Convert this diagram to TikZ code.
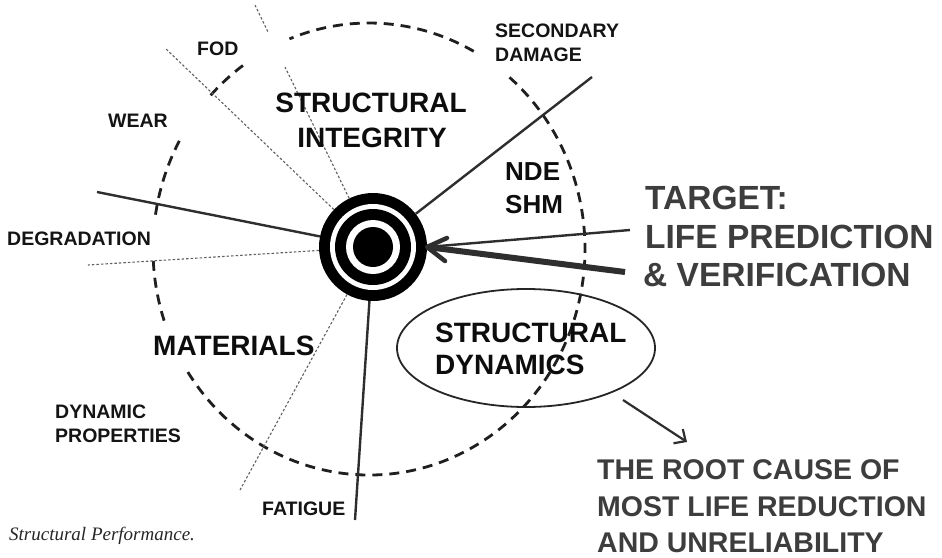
\documentclass[tikz,border=0pt]{standalone}
\usepackage{fontspec}
\setmainfont{Liberation Sans}
\newfontfamily\seriffont{Liberation Serif}
\usetikzlibrary{shapes.geometric,arrows.meta}
\begin{document}
\begin{tikzpicture}[x=1pt,y=-1pt,
  lbl/.style={inner sep=0pt, anchor=base west, font=\bfseries\fontsize{19.5}{22}\selectfont, text=black!92},
  mid/.style={inner sep=0pt, anchor=base west, font=\bfseries\fontsize{26}{30}\selectfont, text=black!95},
  big/.style={inner sep=0pt, anchor=base west, font=\bfseries\fontsize{28}{32}\selectfont, text=black!95},
  gtxt/.style={inner sep=0pt, anchor=base west, font=\bfseries\fontsize{33.5}{38}\selectfont, text=black!76},
  rtxt/.style={inner sep=0pt, anchor=base west, font=\bfseries\fontsize{28.5}{32}\selectfont, text=black!76},
  dcirc/.style={line width=2.8pt, dash pattern=on 10pt off 7pt, black!88},
  dotl/.style={line width=1.1pt, dash pattern=on 2.5pt off 2pt, black!62},
  radl/.style={line width=2.4pt, black!82},
  ring/.style={circle, inner sep=0pt, draw=none},
]
\useasboundingbox (0,0) rectangle (942,557);
\fill[white] (0,0) rectangle (942,557);

% ---- dashed circle (with gaps) ----
\coordinate (cc) at (369,249);
\draw[dcirc] (cc) ++(-213:216 and 226) arc[start angle=-213, end angle=-410, x radius=216, y radius=226];
\draw[dcirc] (cc) ++(-61:216 and 226) arc[start angle=-61, end angle=-111.6, x radius=216, y radius=226];
\draw[dcirc] (cc) ++(-125.7:216 and 226) arc[start angle=-125.7, end angle=-138.4, x radius=216, y radius=226];
\draw[dcirc] (cc) ++(-151.4:216 and 226) arc[start angle=-151.4, end angle=-172, x radius=216, y radius=226];
\draw[dcirc] (cc) ++(-183:216 and 226) arc[start angle=-183, end angle=-200, x radius=216, y radius=226];

% ---- target ----
\node[ring, fill=black, minimum size=108pt] (tgt) at (373,247) {};
\node[ring, fill=white, minimum size=86pt] (tw1) at (tgt.center) {};
\node[ring, fill=black, minimum size=76pt] (tb1) at (tgt.center) {};
\node[ring, fill=white, minimum size=54pt] (tw2) at (tgt.center) {};
\node[ring, fill=black, minimum size=40pt] (tb2) at (tgt.center) {};

% ---- end points ----
\coordinate (sUR) at (592,77);
\coordinate (sL) at (97,192);
\coordinate (sD) at (355,520);
\coordinate (dA1) at (255,5);
\coordinate (dA2) at (268,32);
\coordinate (dA3) at (285,67);
\coordinate (dB) at (165,48);
\coordinate (dC) at (88,265);
\coordinate (dD) at (240,490);
\coordinate (tip) at (427,247);
\coordinate (thinE) at (630,230);
\coordinate (thickE) at (625,272);
\coordinate (barbU) at (447,238);
\coordinate (barbD) at (445,261);
\coordinate (ra1) at (623,400);
\coordinate (ra2) at (687,442);

% ---- radial lines ----
\draw[radl] (tgt) -- (sUR);
\draw[radl] (tgt) -- (sL);
\draw[radl] (tgt) -- (sD);
\draw[dotl] (dA1) -- (dA2);
\draw[dotl] (tgt) -- (dA3);
\draw[dotl] (tgt) -- (dB);
\draw[dotl] (tgt) -- (dC);
\draw[dotl] (tgt) -- (dD);

% ---- target arrow ----
\draw[line width=2.4pt, black!82] (thinE) -- (tip);
\draw[line width=6pt, black!82] (thickE) -- (tip);
\draw[line width=4.5pt, black!82, line cap=round, line join=round] (barbU) -- (tip) -- (barbD);

% ---- ellipse ----
\node[draw, ellipse, line width=1.8pt, black!85, minimum width=258pt, minimum height=118pt, inner sep=0pt] (sd) at (526,348) {};
\draw[line width=2.2pt, black!82, -{Straight Barb[length=9pt,width=17pt]}] (ra1) -- (ra2);

% ---- labels ----
\node[lbl] (fod) at (197,55) {FOD};
\node[lbl] (wear) at (108,127) {WEAR};
\node[lbl] (degr) at (7,245) {DEGRADATION};
\node[lbl] (dyn1) at (55,418) {DYNAMIC};
\node[lbl] (dyn2) at (55,442) {PROPERTIES};
\node[lbl] (fat) at (262,515) {FATIGUE};
\node[lbl] (sec1) at (495,37) {SECONDARY};
\node[lbl] (sec2) at (495,61) {DAMAGE};
\node[big, anchor=base] (si1) at (371,112) {STRUCTURAL};
\node[big, anchor=base] (si2) at (372,147) {INTEGRITY};
\node[mid] (nde) at (505,180) {NDE};
\node[mid] (shm) at (505,213) {SHM};
\node[big] (mat) at (153,355) {MATERIALS};
\node[big] (sd1) at (435,342) {STRUCTURAL};
\node[big] (sd2) at (435,374) {DYNAMICS};
\node[gtxt] (tg1) at (645,209) {TARGET:};
\node[gtxt] (tg2) at (645,248) {LIFE PREDICTION};
\node[gtxt] (tg3) at (643,286) {\&\ VERIFICATION};
\node[rtxt] (rc1) at (597,479) {THE ROOT CAUSE OF};
\node[rtxt] (rc2) at (597,516) {MOST LIFE REDUCTION};
\node[rtxt] (rc3) at (597,552) {AND UNRELIABILITY};
\node[inner sep=0pt, anchor=base west, font=\seriffont\itshape\fontsize{19}{22}\selectfont, text=black!85] (cap) at (9,540) {Structural Performance.};
\end{tikzpicture}
\end{document}
